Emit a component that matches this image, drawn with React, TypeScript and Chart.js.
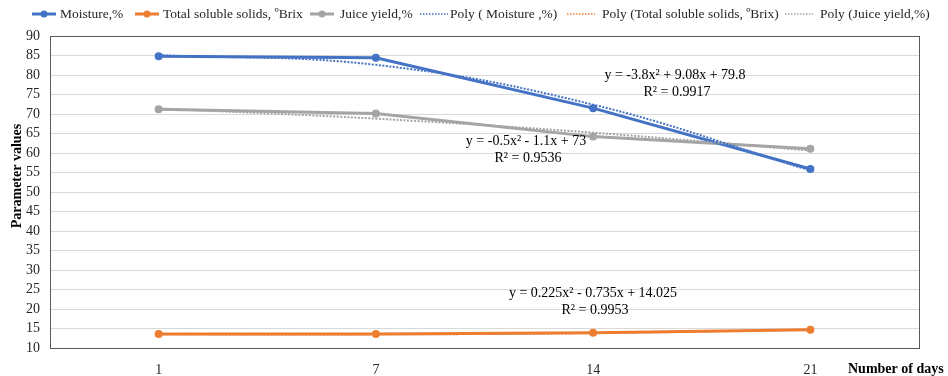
import React, { useEffect, useRef } from "react";
import { Chart, registerables } from "chart.js";

Chart.register(...registerables);

const days = ["1", "7", "14", "21"];
const moisture = [84.8, 84.4, 71.5, 55.9];
const tss = [13.6, 13.6, 13.9, 14.7];
const juiceYield = [71.2, 70.1, 64.2, 61.1];
const moistureTrend = [85.1, 82.6, 72.4, 55.5];
const tssTrend = [13.5, 13.5, 13.8, 14.7];
const juiceTrend = [71.4, 68.8, 65.2, 60.6];

const legendLabels = [
  "Moisture,%",
  "Total soluble solids, ºBrix",
  "Juice yield,%",
  "Poly ( Moisture ,%)",
  "Poly (Total soluble solids, ºBrix)",
  "Poly (Juice yield,%)",
];

const equations = [
  { lines: ["y = -3.8x² + 9.08x + 79.8", "R² = 0.9917"], at: [675, 75] },
  { lines: ["y = -0.5x² - 1.1x + 73", "R² = 0.9536"], at: [526, 141] },
  { lines: ["y = 0.225x² - 0.735x + 14.025", "R² = 0.9953"], at: [593, 293] },
];

const BLUE = "#4472C4";
const ORANGE = "#ED7D31";
const GRAY = "#A5A5A5";
const FONT = "'Liberation Serif', 'Times New Roman', serif";

const overlay = {
  id: "overlay",
  afterDraw(chart: any) {
    const ctx = chart.ctx;
    const a = chart.chartArea;
    ctx.save();
    // plot border
    ctx.strokeStyle = "#595959";
    ctx.lineWidth = 1;
    ctx.strokeRect(Math.round(a.left) + 0.5, Math.round(a.top) + 0.5, Math.round(a.right - a.left), Math.round(a.bottom - a.top));

    // legend
    const colors = [BLUE, ORANGE, GRAY, BLUE, ORANGE, GRAY];
    const iconX = [32, 135, 310, 420, 567, 785];
    const textX = [60, 163, 340, 450, 602, 820];
    const ly = 14;
    ctx.font = `13.5px ${FONT}`;
    ctx.textBaseline = "middle";
    ctx.textAlign = "left";
    for (let i = 0; i < 6; i++) {
      ctx.strokeStyle = colors[i];
      if (i < 3) {
        ctx.lineWidth = 3;
        ctx.setLineDash([]);
        ctx.beginPath();
        ctx.moveTo(iconX[i], ly);
        ctx.lineTo(iconX[i] + 24, ly);
        ctx.stroke();
        ctx.fillStyle = colors[i];
        ctx.beginPath();
        ctx.arc(iconX[i] + 12, ly, 3.5, 0, Math.PI * 2);
        ctx.fill();
      } else {
        ctx.lineWidth = 1.5;
        ctx.setLineDash([1.5, 1.5]);
        ctx.beginPath();
        ctx.moveTo(iconX[i], ly);
        ctx.lineTo(iconX[i] + 28, ly);
        ctx.stroke();
        ctx.setLineDash([]);
      }
      ctx.fillStyle = "#262626";
      ctx.fillText(legendLabels[i], textX[i], ly);
    }

    // equations
    ctx.fillStyle = "#000";
    ctx.textAlign = "center";
    ctx.font = `14px ${FONT}`;
    for (const eq of equations) {
      ctx.fillText(eq.lines[0], eq.at[0], eq.at[1]);
      ctx.fillText(eq.lines[1], eq.at[0] + 2, eq.at[1] + 17);
    }

    // axis titles
    ctx.font = `bold 14px ${FONT}`;
    ctx.fillStyle = "#000";
    ctx.textAlign = "left";
    ctx.fillText("Number of days", 848, 369);
    ctx.translate(17, 176);
    ctx.rotate(-Math.PI / 2);
    ctx.textAlign = "center";
    ctx.fillText("Parameter values", 0, 0);
    ctx.restore();
  },
};

export default function App() {
  const ref = useRef<HTMLCanvasElement>(null);
  useEffect(() => {
    const trend = (data: number[], color: string) => ({
      data,
      borderColor: color,
      backgroundColor: color,
      borderWidth: 2,
      borderDash: [2, 1.5],
      pointRadius: 0,
      tension: 0.4,
      order: 0,
      fill: false,
    });
    const series = (data: number[], color: string) => ({
      data,
      borderColor: color,
      backgroundColor: color,
      borderWidth: 3,
      pointRadius: 4,
      pointBorderWidth: 0,
      pointBackgroundColor: color,
      tension: 0,
      order: 1,
      fill: false,
    });
    const chart = new Chart(ref.current!, {
      type: "line",
      data: {
        labels: days,
        datasets: [
          { label: legendLabels[0], ...series(moisture, BLUE) },
          { label: legendLabels[1], ...series(tss, ORANGE) },
          { label: legendLabels[2], ...series(juiceYield, GRAY) },
          { label: legendLabels[3], ...trend(moistureTrend, BLUE) },
          { label: legendLabels[4], ...trend(tssTrend, ORANGE) },
          { label: legendLabels[5], ...trend(juiceTrend, GRAY) },
        ],
      } as any,
      options: {
        animation: false,
        responsive: false,
        maintainAspectRatio: false,
        layout: { padding: { top: 36, right: 29, left: 0, bottom: 0 } },
        plugins: { legend: { display: false }, tooltip: { enabled: false } },
        scales: {
          x: {
            offset: true,
            grid: { display: false, drawTicks: false },
            border: { display: false },
            ticks: { color: "#262626", font: { family: FONT, size: 14 }, padding: 14 },
            afterFit: (s: any) => { s.height = 28; },
          },
          y: {
            min: 10,
            max: 90,
            ticks: { stepSize: 5, autoSkip: false, color: "#262626", font: { family: FONT, size: 14 }, padding: 10 },
            grid: { color: "#D9D9D9", drawTicks: false, lineWidth: 1 },
            border: { display: false },
            afterFit: (s: any) => { s.width = 50; },
          },
        },
      } as any,
      plugins: [overlay],
    });
    return () => chart.destroy();
  }, []);
  return (
    <div style={{ position: "fixed", left: 0, top: 0, width: 948, height: 376, background: "#fff" }}>
      <canvas ref={ref} width={948} height={376} style={{ width: 948, height: 376 }} />
    </div>
  );
}
